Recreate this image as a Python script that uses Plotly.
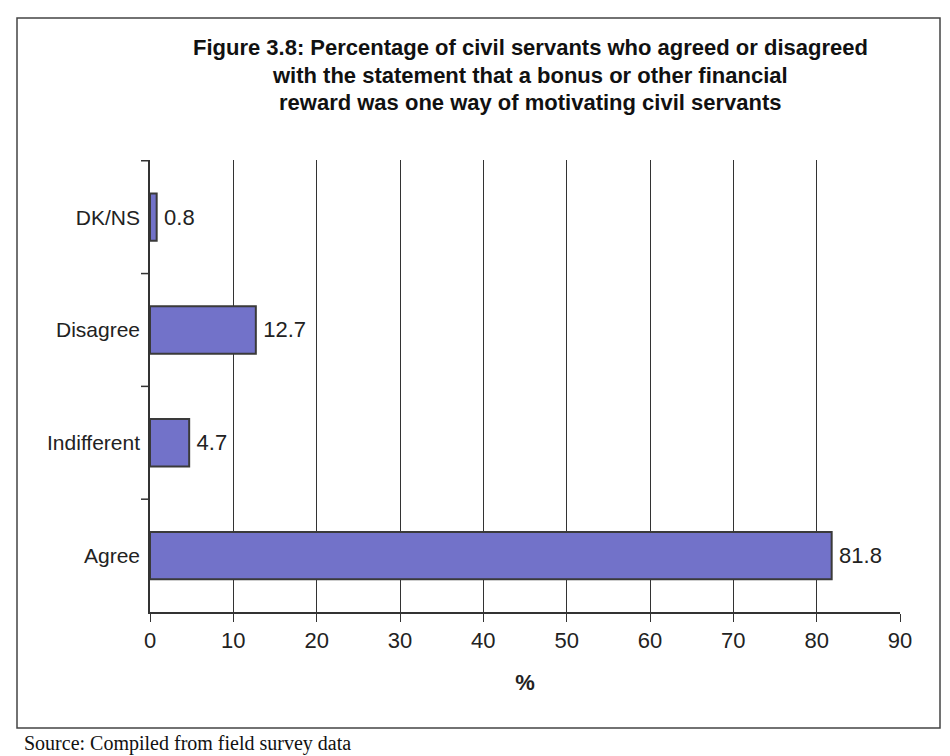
import plotly.graph_objects as go

categories = ["Agree", "Indifferent", "Disagree", "DK/NS"]
values = [81.8, 4.7, 12.7, 0.8]
value_labels = ["81.8", "4.7", "12.7", "0.8"]
x_ticks = [0, 10, 20, 30, 40, 50, 60, 70, 80, 90]

title_lines = [
    "Figure 3.8: Percentage of civil servants who agreed or disagreed",
    "with the statement that a bonus or other financial",
    "reward was one way of motivating civil servants",
]

fig = go.Figure()
fig.add_trace(go.Bar(
    y=categories, x=values, orientation="h",
    text=["\u2009" + v for v in value_labels], textposition="outside",
    textfont=dict(family="Liberation Sans, Arial, sans-serif", size=22, color="#222"),
    cliponaxis=False,
    marker=dict(color="#7272C9", line=dict(color="#3a3a3a", width=2)),
    width=0.42,
    hoverinfo="skip",
))

fig.update_layout(
    width=950, height=756,
    paper_bgcolor="white", plot_bgcolor="white",
    margin=dict(l=150, r=50, t=160, b=144),
    showlegend=False,
    font=dict(family="Liberation Sans, Arial, sans-serif", size=20, color="#222"),
    xaxis=dict(
        range=[0, 90], tickvals=x_ticks, ticktext=[str(t) for t in x_ticks],
        showgrid=True, gridcolor="#333", gridwidth=1.2,
        showline=True, linecolor="#333", linewidth=1.5,
        ticks="outside", ticklen=8, tickcolor="#333",
        tickfont=dict(size=22), zeroline=False,
        title=dict(text="<b>%</b>", font=dict(size=22), standoff=22),
    ),
    yaxis=dict(
        showline=True, linecolor="#333", linewidth=1.5,
        ticks="", showgrid=False, tickfont=dict(size=21),
        ticklabelstandoff=4,
    ),
)

for b in [0.5, 1.5, 2.5, 3.5]:
    fig.add_shape(type="line", xref="paper", yref="y", x0=-0.012, x1=0, y0=b, y1=b,
                  line=dict(color="#333", width=1.5))

# outer frame
fig.add_shape(type="rect", xref="paper", yref="paper",
              x0=-133/750, x1=(940-150)/750, y0=-(728-612)/452, y1=(612-18)/452,
              line=dict(color="#444", width=1.5), layer="below")

for i, line in enumerate(title_lines):
    fig.add_annotation(
        xref="paper", yref="paper", x=(530-150)/750, y=(612-47-28*i)/452,
        text="<b>" + line + "</b>", showarrow=False, xanchor="center", yanchor="middle",
        font=dict(family="Liberation Sans Narrow, Arial Narrow, Liberation Sans, sans-serif", size=22, color="#111"),
    )

fig.add_annotation(
    xref="paper", yref="paper", x=-(150-22)/750, y=-(743-612)/452,
    text="Source: Compiled from field survey data", showarrow=False,
    xanchor="left", yanchor="middle",
    font=dict(family="Liberation Serif, Times New Roman, serif", size=20, color="#111"),
)

fig.write_html("out.html")
